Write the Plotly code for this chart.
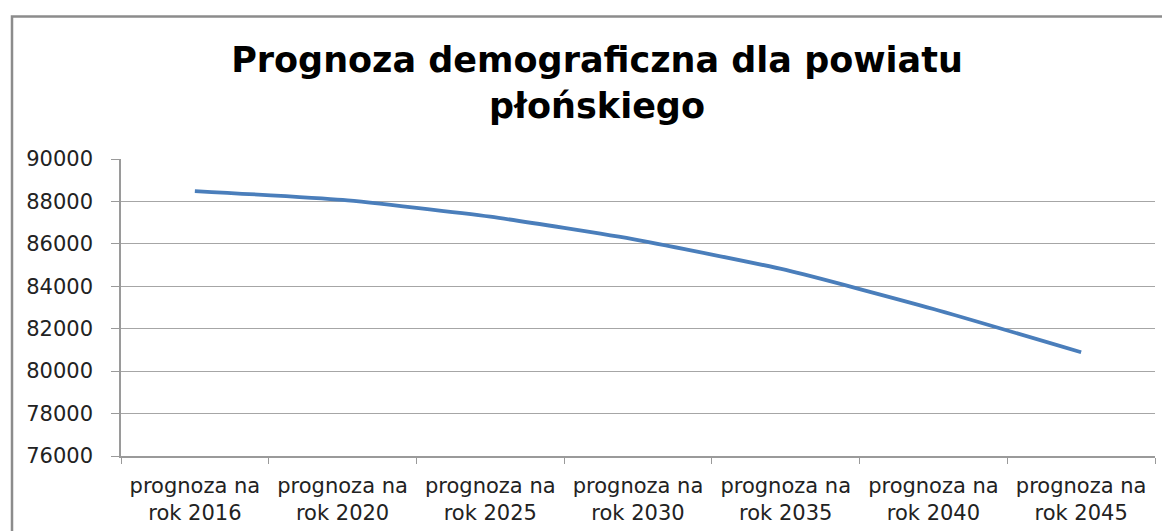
import plotly.graph_objects as go

categories = ["prognoza na<br>rok 2016", "prognoza na<br>rok 2020", "prognoza na<br>rok 2025",
              "prognoza na<br>rok 2030", "prognoza na<br>rok 2035", "prognoza na<br>rok 2040",
              "prognoza na<br>rok 2045"]
values = [88490, 88070, 87280, 86180, 84770, 82930, 80890]
y_ticks = [76000, 78000, 80000, 82000, 84000, 86000, 88000, 90000]
title_text = "Prognoza demograficzna dla powiatu<br>płońskiego"

OFF = 8  # page body margin
W, H = 1170, 531
L = 121 - OFF
T = 159 - OFF
B = H - (456 - OFF)
R = W - (1155 - OFF)
pw, ph = W - L - R, H - T - B

def px(x):
    return (x - OFF - L) / pw

def py(y):
    return (H - B - (y - OFF)) / ph

fig = go.Figure()
fig.add_trace(go.Scatter(
    x=categories, y=values, mode="lines",
    line=dict(color="#4A7EBB", width=3.8, shape="spline", smoothing=0.5),
    hoverinfo="x+y", showlegend=False,
))

fig.update_layout(
    width=W, height=H,
    margin=dict(l=L, r=R, t=T, b=B),
    paper_bgcolor="white", plot_bgcolor="white",
    font=dict(family="DejaVu Sans", color="#222222"),
    title=dict(text=title_text, x=px(597), xref="paper", xanchor="center",
               y=1 - (72 - OFF) / H, yanchor="middle",
               font=dict(family="DejaVu Sans", size=35, color="black", weight="bold")),
    xaxis=dict(type="category", showgrid=False, showline=True, linecolor="#9A9A9A", linewidth=1.5,
               ticks="outside", tickson="boundaries", ticklen=6, tickcolor="#9A9A9A",
               ticklabelstandoff=10,
               tickfont=dict(size=21, color="#222222"), range=[-0.5, 6.5]),
    yaxis=dict(range=[76000, 90000], tickvals=y_ticks, ticktext=[str(v) for v in y_ticks],
               showgrid=True, gridcolor="#A6A6A6", gridwidth=1.2,
               showline=True, linecolor="#9A9A9A", linewidth=1.5,
               ticks="outside", ticklen=8, tickcolor="#9A9A9A",
               ticklabelstandoff=14, tickfont=dict(size=21, color="#222222"),
               zeroline=False),
    shapes=[dict(type="rect", xref="paper", yref="paper",
                 x0=px(12), x1=px(1185), y0=py(545), y1=py(16.5),
                 line=dict(color="#8C8C8C", width=2.5), fillcolor="rgba(0,0,0,0)", layer="below")],
)

fig.write_html("out.html")
